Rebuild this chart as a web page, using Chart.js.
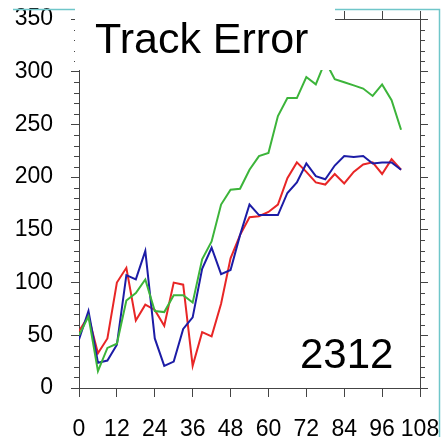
<!DOCTYPE html>
<html>
<head>
<meta charset="utf-8">
<script src="https://cdn.jsdelivr.net/npm/chart.js@4"></script>
<style>
  html, body { margin: 0; padding: 0; background: #fff; }
  canvas { display: block; }
</style>
</head>
<body>
<canvas id="chart" width="441" height="437"></canvas>
<script>
// forecast lead time (h)
const leadHours = [0, 3, 6, 9, 12, 15, 18, 21, 24, 27, 30, 33, 36, 39, 42, 45, 48, 51, 54,
    57, 60, 63, 66, 69, 72, 75, 78, 81, 84, 87, 90, 93, 96, 99, 102];

// track error per run (km)
const greenError = [50, 68, 16, 38, 42, 83, 90, 103, 73, 72, 88, 88, 81, 122, 139, 174, 188, 189, 207,
    220, 223, 258, 275, 275, 295, 288, 310, 293, 290, 287, 284, 277, 288, 273, 245];
const blueError = [46, 73, 24, 26, 41, 107, 103, 130, 47, 21, 25, 56, 67, 113, 133, 108, 112, 145, 174,
    164, 164, 164, 185, 195, 213, 201, 198, 211, 220, 219, 220, 213, 214, 214, 207];
const redError = [54, 68, 33, 47, 100, 114, 64, 79, 74, 59, 100, 98, 21, 53, 49, 80, 123, 145, 162,
    163, 167, 174, 199, 214, 205, 195, 193, 203, 194, 205, 212, 214, 203, 217, 207];

const xTickStep = 12;
const yTickStep = 50;
const yMinorStep = 10;

const titleText = 'Track Error';
const caseLabel = '2312';

const fontFamily = '"Liberation Sans", Arial, sans-serif';
const axisColor = '#444';

function toPoints(values) {
    return values.map((v, i) => ({ x: leadHours[i], y: v }));
}

function lineSet(values, color) {
    return {
        data: toPoints(values),
        borderColor: color,
        borderWidth: 2,
        pointRadius: 0,
        tension: 0,
        fill: false
    };
}

// keep label overhang from pushing the plot area around
function fixSize(prop, size) {
    return s => {
        s[prop] = size;
        s.paddingTop = 0;
        s.paddingBottom = 0;
        s.paddingLeft = 0;
        s.paddingRight = 0;
    };
}

// minor ticks, slide frame and the text boxes drawn on top
const decorations = {
    id: 'decorations',
    afterDraw(chart) {
        const ctx = chart.ctx;
        const y = chart.scales.y;
        const area = chart.chartArea;
        ctx.save();
        ctx.strokeStyle = axisColor;
        ctx.lineWidth = 1;
        for (let v = y.min; v <= y.max; v += yMinorStep) {
            if (v % yTickStep === 0) continue;
            const py = Math.round(y.getPixelForValue(v)) + 0.5;
            ctx.beginPath();
            ctx.moveTo(area.left - 5, py);
            ctx.lineTo(area.left, py);
            ctx.moveTo(area.right, py);
            ctx.lineTo(area.right + 5, py);
            ctx.stroke();
        }

        ctx.strokeStyle = '#6fc6c9';
        ctx.lineWidth = 1.5;
        ctx.beginPath();
        ctx.moveTo(13, 9.5);
        ctx.lineTo(439.5, 9.5);
        ctx.lineTo(439.5, 437);
        ctx.stroke();

        ctx.fillStyle = '#fff';
        ctx.fillRect(75, 0, 260, 70);

        ctx.fillStyle = '#000';
        ctx.font = '43px ' + fontFamily;
        ctx.textBaseline = 'alphabetic';
        ctx.textAlign = 'left';
        ctx.fillText(titleText, 95, 53);
        ctx.font = '42px ' + fontFamily;
        ctx.fillText(caseLabel, 300, 368);
        ctx.restore();
    }
};

new Chart(document.getElementById('chart'), {
    type: 'line',
    data: {
        datasets: [
            lineSet(greenError, '#3cb43a'),
            lineSet(blueError, '#1c1ca6'),
            lineSet(redError, '#e82626')
        ]
    },
    options: {
        responsive: false,
        animation: false,
        layout: { padding: 0 },
        plugins: {
            legend: { display: false },
            tooltip: { enabled: false }
        },
        scales: {
            x: {
                type: 'linear',
                position: 'bottom',
                min: 0,
                max: 108,
                ticks: {
                    stepSize: xTickStep,
                    autoSkip: false,
                    maxRotation: 0,
                    color: '#000',
                    padding: 19,
                    font: { family: fontFamily, size: 23 }
                },
                grid: { drawOnChartArea: false, tickLength: 9, color: axisColor },
                border: { color: axisColor, width: 1 },
                afterFit: fixSize('height', 49)
            },
            x2: {
                type: 'linear',
                position: 'top',
                min: 0,
                max: 108,
                ticks: { stepSize: xTickStep, display: false },
                grid: { drawOnChartArea: false, tickLength: 8, color: axisColor },
                border: { color: axisColor, width: 1 },
                afterFit: fixSize('height', 19)
            },
            y: {
                position: 'left',
                min: 0,
                max: 350,
                ticks: {
                    stepSize: yTickStep,
                    color: '#000',
                    padding: 18,
                    font: { family: fontFamily, size: 23 }
                },
                grid: { drawOnChartArea: false, tickLength: 8, color: axisColor },
                border: { color: axisColor, width: 1 },
                afterFit: fixSize('width', 79)
            },
            y2: {
                position: 'right',
                min: 0,
                max: 350,
                ticks: { stepSize: yTickStep, display: false },
                grid: { drawOnChartArea: false, tickLength: 8, color: axisColor },
                border: { color: axisColor, width: 1 },
                afterFit: fixSize('width', 21)
            }
        }
    },
    plugins: [decorations]
});
</script>
</body>
</html>
